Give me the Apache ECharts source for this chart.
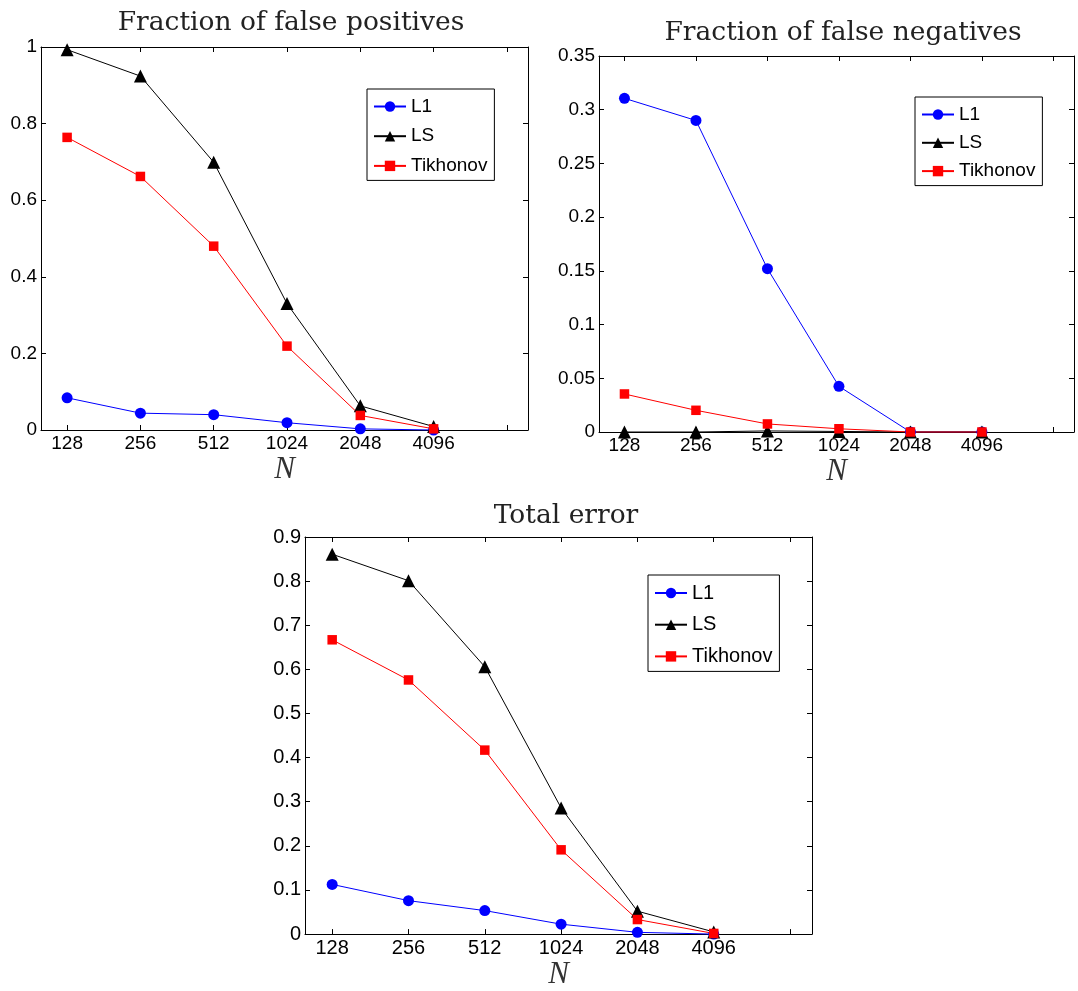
<!DOCTYPE html>
<html>
<head>
<meta charset="utf-8">
<script src="https://cdn.jsdelivr.net/npm/echarts@6/dist/echarts.min.js"></script>
<style>
html,body{margin:0;padding:0;background:#fff;}
#chart{width:1078px;height:991px;}
</style>
</head>
<body>
<div id="chart"></div>
<script>
// ---- data ----
const N = [128, 256, 512, 1024, 2048, 4096];
const X_TICK_LABELS = ['128', '256', '512', '1024', '2048', '4096'];
const X_TICK_N = [128, 256, 512, 1024, 2048, 4096, 8192];
const X_RANGE_N = [100, 10000];
const SERIES_NAMES = ['L1', 'LS', 'Tikhonov'];

const TITLES = ['Fraction of false positives', 'Fraction of false negatives', 'Total error'];

// Fraction of false positives
const fpL1  = [0.084, 0.044, 0.040, 0.019, 0.003, 0.000];
const fpLS  = [0.993, 0.924, 0.699, 0.330, 0.063, 0.009];
const fpTik = [0.764, 0.662, 0.480, 0.219, 0.038, 0.003];

// Fraction of false negatives
const fnL1  = [0.3106, 0.290, 0.152, 0.0425, 0.000, 0.000];
const fnLS  = [0.000, 0.000, 0.001, 0.0005, 0.000, 0.000];
const fnTik = [0.0354, 0.0202, 0.0075, 0.003, 0.000, 0.000];

// Total error
const teL1  = [0.1126, 0.0758, 0.0533, 0.0225, 0.004, 0.000];
const teLS  = [0.861, 0.801, 0.606, 0.286, 0.052, 0.005];
const teTik = [0.667, 0.576, 0.417, 0.191, 0.033, 0.0015];

const Y_MAX = [1, 0.35, 0.9];
const Y_INTERVAL = [0.2, 0.05, 0.1];

// ---- layout / style ----
const GRIDS = [
  {left: 41, top: 47, width: 487, height: 383},
  {left: 599, top: 56, width: 475, height: 376},
  {left: 305, top: 537, width: 507, height: 398}
];
const TITLE_POS = [{x: 286, y: 18}, {x: 838, y: 28}, {x: 561, y: 511}];
const LEGEND_POS = [{left: 367, top: 89, gap: 10.7}, {left: 915, top: 97, gap: 9.3}, {left: 648, top: 575, gap: 11.7}];
const FONT_SIZE = [19, 19, 20];
const COLORS = ['#0000ff', '#000000', '#ff0000'];
const SYMBOLS = ['circle', 'triangle', 'rect'];
const SYMBOL_SIZES = [11, 13, 9.5];

const lg = v => Math.log2(v);
const XMIN = lg(X_RANGE_N[0]), XMAX = lg(X_RANGE_N[1]);
const tickVals = X_TICK_N.map(lg);
const labelVals = N.map(lg);

const DATA = [[fpL1, fpLS, fpTik], [fnL1, fnLS, fnTik], [teL1, teLS, teTik]];

const option = {
  animation: false,
  backgroundColor: '#fff',
  title: [], grid: [], xAxis: [], yAxis: [], legend: [], series: []
};

const axisLineStyle = {show: true, onZero: false, lineStyle: {color: '#000', width: 1}};

for (let g = 0; g < 3; g++) {
  const fs = FONT_SIZE[g];
  option.grid.push(Object.assign({containLabel: false}, GRIDS[g]));
  option.title.push({
    text: TITLES[g],
    left: TITLE_POS[g].x, top: TITLE_POS[g].y - 16,
    textAlign: 'center',
    textStyle: {fontFamily: 'DejaVu Serif', fontWeight: 'normal', fontSize: 26.5, color: '#222', lineHeight: 32}
  });
  // bottom x axis
  option.xAxis.push({
    type: 'value', gridIndex: g, position: 'bottom', min: XMIN, max: XMAX,
    axisLine: axisLineStyle,
    axisTick: {show: true, inside: true, length: 5, customValues: tickVals, lineStyle: {color: '#000'}},
    axisLabel: {
      show: true, customValues: labelVals, margin: 4, color: '#000',
      fontFamily: 'Liberation Sans', fontSize: fs,
      formatter: v => { const i = labelVals.findIndex(t => Math.abs(t - v) < 1e-6); return i >= 0 ? X_TICK_LABELS[i] : ''; }
    },
    splitLine: {show: false},
    name: 'N', nameLocation: 'middle', nameGap: 21,
    nameTextStyle: {fontFamily: 'Liberation Serif', fontStyle: 'italic', fontSize: 31, color: '#333'}
  });
  // top x axis (box)
  option.xAxis.push({
    type: 'value', gridIndex: g, position: 'top', min: XMIN, max: XMAX,
    axisLine: axisLineStyle,
    axisTick: {show: true, inside: true, length: 5, customValues: tickVals, lineStyle: {color: '#000'}},
    axisLabel: {show: false}, splitLine: {show: false}
  });
  // left y axis
  option.yAxis.push({
    type: 'value', gridIndex: g, position: 'left', min: 0, max: Y_MAX[g], interval: Y_INTERVAL[g],
    axisLine: axisLineStyle,
    axisTick: {show: true, inside: true, length: 5, lineStyle: {color: '#000'}},
    axisLabel: {show: true, margin: 4, color: '#000', fontFamily: 'Liberation Sans', fontSize: fs},
    splitLine: {show: false}
  });
  // right y axis (box)
  option.yAxis.push({
    type: 'value', gridIndex: g, position: 'right', min: 0, max: Y_MAX[g], interval: Y_INTERVAL[g],
    axisLine: axisLineStyle,
    axisTick: {show: true, inside: true, length: 5, lineStyle: {color: '#000'}},
    axisLabel: {show: false}, splitLine: {show: false}
  });
  option.legend.push({
    orient: 'vertical',
    left: LEGEND_POS[g].left, top: LEGEND_POS[g].top,
    data: SERIES_NAMES,
    itemWidth: 32, itemHeight: 13, itemGap: LEGEND_POS[g].gap,
    padding: [8, 7, 5, 6],
    borderColor: '#000', borderWidth: 1, backgroundColor: '#fff',
    selectedMode: false,
    textStyle: {fontFamily: 'Liberation Sans', fontSize: fs, color: '#000', lineHeight: 19}
  });
  for (let s = 0; s < 3; s++) {
    option.series.push({
      type: 'line', name: SERIES_NAMES[s],
      xAxisIndex: 2 * g, yAxisIndex: 2 * g,
      data: N.map((n, i) => [lg(n), DATA[g][s][i]]),
      symbol: SYMBOLS[s], symbolSize: SYMBOL_SIZES[s],
      showAllSymbol: true,
      lineStyle: {color: COLORS[s], width: 1},
      itemStyle: {color: COLORS[s], borderWidth: 0},
      clip: false
    });
  }
}

const chart = echarts.init(document.getElementById('chart'), null, {renderer: 'canvas'});
chart.setOption(option);
</script>
</body>
</html>
